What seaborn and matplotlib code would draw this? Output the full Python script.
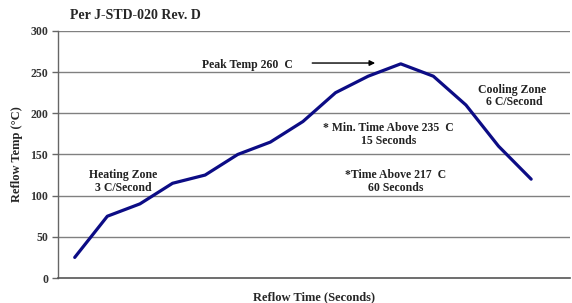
import numpy as np
import pandas as pd
import seaborn as sns
import matplotlib
matplotlib.use("Agg")
import matplotlib.pyplot as plt

# reflow profile
step = list(range(15))
temp = [25, 75, 90, 115, 125, 150, 165, 190, 225, 245, 260, 245, 210, 160, 120]
yticks = [0, 50, 100, 150, 200, 250, 300]

df = pd.DataFrame({"step": step, "temp": temp})

sns.set_style("white")
plt.rcParams["font.family"] = ["Liberation Serif", "DejaVu Serif"]
plt.rcParams["font.weight"] = "bold"

fig = plt.figure(figsize=(5.72, 3.03), dpi=100)
ax = fig.add_axes([0.101, 0.0825, 0.896, 0.8155])

for v in yticks[1:]:
    ax.axhline(v, color="#808080", lw=1.0, zorder=0)

sns.lineplot(data=df, x="step", y="temp", color="#0c0c85", lw=2.3, ax=ax)

ax.set_xlim(-0.52, 15.2)
ax.set_ylim(0, 300)
ax.set_yticks(yticks)
ax.set_yticklabels([str(v) for v in yticks], fontsize=8.5, fontweight="bold", color="#333333")
ax.set_xticks([])
ax.tick_params(axis="y", length=4, width=1, color="#666666", pad=3, left=True)

for s in ["top", "right"]:
    ax.spines[s].set_visible(False)
ax.spines["left"].set_color("#666666")
ax.spines["bottom"].set_color("#555555")
ax.spines["left"].set_linewidth(1.0)
ax.spines["bottom"].set_linewidth(1.2)

ax.set_xlabel("Reflow Time (Seconds)", fontsize=9, fontweight="bold")
ax.set_ylabel("Reflow Temp (\u00b0C)", fontsize=9, fontweight="bold", labelpad=5)
ax.xaxis.set_label_coords(0.5, -0.077)
ax.xaxis.label.set_verticalalignment("center")
fig.text(0.122, 0.948, "Per J-STD-020 Rev. D", fontsize=10, fontweight="bold",
         ha="left", va="center")

tk = dict(fontsize=8.5, fontweight="bold", ha="center", va="center", linespacing=1.05, color="#222222")
ax.text(5.3, 259, "Peak Temp 260  C", **tk)
ax.annotate("", xy=(9.3, 261), xytext=(7.2, 261),
            arrowprops=dict(arrowstyle="-|>", color="black", lw=1.0, mutation_scale=8))
ax.text(13.4, 221, "Cooling Zone\n  6 C/Second", **tk)
ax.text(9.63, 174, "* Min. Time Above 235  C\n15 Seconds", **tk)
ax.text(9.85, 117, "*Time Above 217  C\n60 Seconds", **tk)
ax.text(1.48, 117, "Heating Zone\n3 C/Second", **tk)

fig.savefig("out.png", dpi=100)
